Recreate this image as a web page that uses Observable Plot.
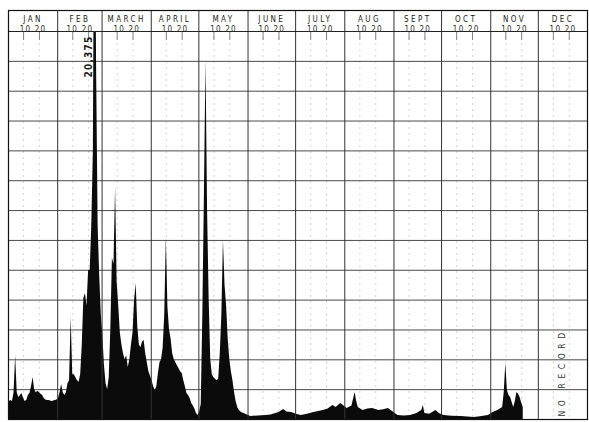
<!DOCTYPE html>
<html><head><meta charset="utf-8">
<script src="https://cdn.jsdelivr.net/npm/d3@7"></script>
<script src="https://cdn.jsdelivr.net/npm/@observablehq/plot@0.6"></script>
<style>
html,body{margin:0;padding:0;background:#fff;}
#chart{width:589px;height:422px;overflow:hidden;}
</style></head><body><div id="chart"></div>
<script>
// ---- data (daily discharge, cfs) ----
const monthNames = ["JAN","FEB","MARCH","APRIL","MAY","JUNE","JULY","AUG","SEPT","OCT","NOV","DEC"];
const monthDays = [31,28,31,30,31,30,31,31,30,31,30,31];
const subTickDays = [10, 20];
const subTickLabel = "10 20";

const janFlow = [600,640,600,900,2140,900,740,800,870,700,600,640,800,870,1100,1410,1000,900,950,900,850,800,700,650,640,640,620,600,620,640,650];
const febFlow = [700,900,1170,900,800,900,1200,1300,3420,1500,1500,1400,1300,1250,1500,2500,4050,4220,3800,4990,5000,6500,9000,20375,12000,6500,4800,3500];
const marFlow = [2800,1800,1200,1000,1400,3000,5400,5200,7770,4600,3800,2900,2500,2200,2000,2140,1740,2000,2500,2900,4000,4560,3100,2500,2400,2600,2650,2200,1900,1600,1450];
const aprFlow = [1300,1100,970,1100,1540,1900,2000,2400,3500,6100,3750,3000,2700,2200,2000,1900,1800,1700,1600,1540,1300,1100,870,800,700,540,450,350,200,130];
const mayFlow = [250,500,3500,7500,12030,7000,4000,2000,1500,1400,1350,1300,1350,2200,3500,6000,4500,3800,2700,2000,1600,1300,900,600,400,300,250,220,200,180,150];

// later part of the record (day of year, cfs)
const lateDays = [152,153,158,163,166,171,174,176,179,182,185,189,193,196,199,202,205,207,210,212,214,217,219,220,221,224,227,230,234,237,240,243,246,250,254,258,261,262,263,266,270,272,275,280,286,290,294,298,303,306,309,312,313,314,315,316,317,319,320,321,322,323,324,325];
const lateFlow = [130,100,120,130,150,235,335,250,235,180,134,180,235,270,300,350,469,400,536,450,369,450,905,600,402,302,350,369,300,330,369,250,134,120,134,200,300,469,200,180,302,200,134,110,100,80,67,90,134,235,300,402,900,1876,973,800,737,402,600,905,850,737,550,402];

const peakLabel = "20,375";
const noRecordLabel = "NO RECORD";
const gridStep = 1000;
const yMax = 13000;

// ---- derived tables ----
const monthStart = [0, ...d3.cumsum(monthDays)];
const months = monthNames.map((name, i) => ({name, start: monthStart[i], mid: monthStart[i] + monthDays[i] / 2}));
const series = [];
[janFlow, febFlow, marFlow, aprFlow, mayFlow].forEach((arr, m) =>
  arr.forEach((v, k) => series.push({day: monthStart[m] + k + 1, flow: v})));
lateDays.forEach((d, i) => series.push({day: d, flow: lateFlow[i]}));
const subTicks = months.flatMap(m => subTickDays.map(d => m.start + d - 0.5));
const peak = series.reduce((a, b) => (b.flow > a.flow ? b : a));

const chart = Plot.plot({
  width: 589,
  height: 422,
  marginLeft: 8,
  marginRight: 2,
  marginTop: 31,
  marginBottom: 3,
  x: {domain: [0, 365], axis: null},
  y: {domain: [0, yMax], axis: null},
  style: {fontFamily: "'DejaVu Sans Condensed', 'DejaVu Sans', sans-serif", background: "#fff", color: "#111"},
  marks: [
    Plot.ruleX(subTicks, {stroke: "#c8c8c8", strokeDasharray: "2,4", strokeWidth: 0.8}),
    Plot.ruleY(d3.range(gridStep, yMax, gridStep), {stroke: "#4a4a4a", strokeWidth: 1}),
    Plot.areaY(series, {x: d => d.day - 0.5, y: "flow", fill: "#0b0b0b", curve: "linear", clip: true}),
    Plot.ruleX(monthStart.slice(1, 12), {stroke: "#333", strokeWidth: 1, insetTop: -21}),
    Plot.ruleX(subTicks, {stroke: "#666", strokeWidth: 0.8, insetBottom: 379}),
    Plot.ruleY([yMax], {stroke: "#222", strokeWidth: 1}),
    Plot.frame({stroke: "#111", strokeWidth: 1.2, insetTop: -21}),
    Plot.text(months, {x: "mid", text: "name", frameAnchor: "top", dy: -15, fontSize: 8, fill: "#1a1a1a"}),
    Plot.text(months, {x: "mid", text: () => subTickLabel, frameAnchor: "top", dy: -5.5, fontSize: 8, fill: "#2a2a2a"}),
    Plot.text([peak], {x: d => d.day - 0.5, text: () => peakLabel, frameAnchor: "top", dy: 4, dx: -10, rotate: -90, textAnchor: "end", fontSize: 10, fontWeight: "bold", fill: "#1a1a1a"}),
    Plot.text([months[11]], {x: "mid", text: () => noRecordLabel, frameAnchor: "bottom", dy: -3, dx: 2, rotate: -90, textAnchor: "start", fontSize: 8.5, fill: "#333"})
  ]
});
document.getElementById("chart").append(chart);
// letter spacing of the lettering, matched by content
const spacingFor = t => monthNames.includes(t) ? "2.4px" : t === subTickLabel ? "1.2px" : t === peakLabel ? "1.2px" : t === noRecordLabel ? "4.6px" : null;
d3.select(chart).selectAll("text").each(function() {
  const s = spacingFor(this.textContent);
  if (s) { this.style.letterSpacing = s; this.style.whiteSpace = "pre"; }
});
</script>
</body></html>
